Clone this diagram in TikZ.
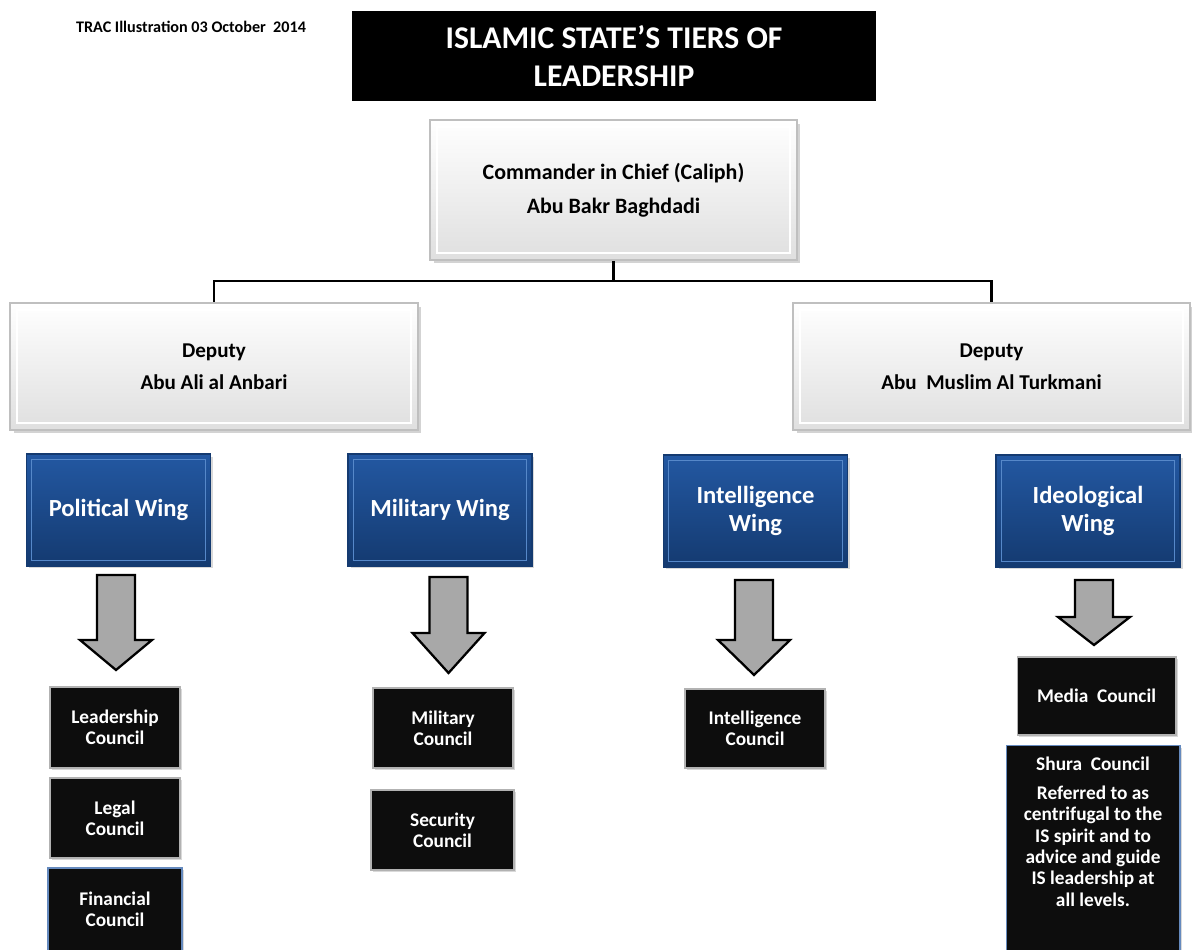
\documentclass[tikz,border=0pt]{standalone}
\usepackage{fontspec}
\setmainfont{Carlito}
\usetikzlibrary{shadows}

\definecolor{bleuhaut}{HTML}{2358A2}
\definecolor{bleubas}{HTML}{143A70}
\definecolor{bleuclair}{HTML}{6C9CDA}
\definecolor{grisfleche}{HTML}{A8A8A8}

\begin{document}
\begin{tikzpicture}[x=0.02cm,y=-0.02cm]
\tikzset{
  boite/.style={rectangle, top color=white, bottom color=gray!25, draw=gray!50, line width=1pt,
    drop shadow={shadow xshift=0.07cm,shadow yshift=-0.07cm,opacity=0.35}, align=center,
    path picture={\draw[white,line width=1.2pt] ([shift={(4pt,-4pt)}]path picture bounding box.north west) rectangle ([shift={(-4pt,4pt)}]path picture bounding box.south east);}},
  aile/.style={rectangle, top color=bleuhaut, bottom color=bleubas, draw=bleubas, line width=0.8pt,
    minimum width=3.68cm, minimum height=2.24cm, text=white, align=center,
    font=\bfseries\fontsize{14}{16}\selectfont,
    drop shadow={shadow xshift=0.05cm,shadow yshift=-0.05cm,opacity=0.3},
    path picture={\draw[bleuclair!70!bleuhaut,line width=0.7pt] ([shift={(3pt,-3pt)}]path picture bounding box.north west) rectangle ([shift={(-3pt,3pt)}]path picture bounding box.south east);}},
  conseil/.style={rectangle, fill=black!95, draw=gray!60, line width=0.6pt, text=white, align=center,
    font=\bfseries\fontsize{11}{12}\selectfont,
    drop shadow={shadow xshift=0.04cm,shadow yshift=-0.04cm,opacity=0.3}},
  fleche/.style={draw=black, line width=1.3pt, fill=grisfleche, line join=miter},
  liaison/.style={line width=1.4pt}
}
\useasboundingbox (0,0) rectangle (1192,949);
\clip (0,0) rectangle (1192,949);

% titre
\node[font=\bfseries\fontsize{9.2}{11}\selectfont] (date) at (191,27) {TRAC Illustration 03 October\ \ 2014};
\node[fill=black, text=white, minimum width=10.48cm, minimum height=1.8cm, align=center,
  font=\bfseries\fontsize{18}{21.5}\selectfont] (titre) at (614,56) {ISLAMIC STATE'S TIERS OF\\LEADERSHIP};

% chefs
\node[boite, minimum width=7.34cm, minimum height=2.8cm, font=\bfseries\fontsize{12.5}{19.5}\selectfont] (calife) at (613.5,190)
  {Commander in Chief (Caliph)\\Abu Bakr Baghdadi};
\node[boite, minimum width=8.16cm, minimum height=2.54cm, font=\bfseries\fontsize{12}{18}\selectfont] (depg) at (214,366.5)
  {Deputy\\Abu Ali al Anbari};
\node[boite, minimum width=7.94cm, minimum height=2.54cm, font=\bfseries\fontsize{12}{18}\selectfont] (depd) at (991.5,366.5)
  {Deputy\\Abu\ \ Muslim Al Turkmani};
\draw[liaison] (calife.south) -- ++(0,20) coordinate (noeud) -| (depg.north);
\draw[liaison] (noeud) -| (depd.north);

% ailes
\node[aile] (politique) at (118.5,510) {Political Wing};
\node[aile] (militaire) at (440,510) {Military Wing};
\node[aile] (renseignement) at (755.5,511) {Intelligence\\Wing};
\node[aile] (ideologie) at (1088,511) {Ideological\\Wing};

% grosses fleches
\foreach \x/\ya/\yb/\yc in {116/575/640/670, 448.5/577/633/673, 754/580/640/675, 1094/580/617/645}
  \draw[fleche] (\x-19,\ya) -- (\x+19,\ya) -- (\x+19,\yb) -- (\x+36,\yb) -- (\x,\yc)
    -- (\x-36,\yb) -- (\x-19,\yb) -- cycle;

% conseils
\node[conseil, minimum width=2.6cm, minimum height=1.62cm] (direction) at (115,727.5) {Leadership\\Council};
\node[conseil, minimum width=2.6cm, minimum height=1.6cm] (juridique) at (115,818) {Legal\\Council};
\node[conseil, minimum width=2.68cm, minimum height=2cm, draw=bleuhaut!70] (finances) at (115,918) {};
\node[text=white, align=center, font=\bfseries\fontsize{11}{12}\selectfont] (financestexte) at (115,909) {Financial\\Council};
\node[conseil, minimum width=2.8cm, minimum height=1.6cm] (milconseil) at (443,728) {Military\\Council};
\node[conseil, minimum width=2.86cm, minimum height=1.6cm] (securite) at (442.5,830) {Security\\Council};
\node[conseil, minimum width=2.8cm, minimum height=1.58cm] (rensconseil) at (755,728.5) {Intelligence\\Council};
\node[conseil, minimum width=3.18cm, minimum height=1.56cm] (medias) at (1096.5,696) {Media\ \ Council};
\node[conseil, minimum width=3.48cm, minimum height=5cm, draw=bleuhaut!70, anchor=north] (choura) at (1093,745) {};
\node[text=white, align=center, anchor=north, yshift=-0.12cm, font=\bfseries\fontsize{11}{12.2}\selectfont] (chouratexte) at (choura.north)
  {Shura\ \ Council\\[4pt]Referred to as\\centrifugal to the\\IS spirit and to\\advice and guide\\IS leadership at\\all levels.};
\end{tikzpicture}
\end{document}
